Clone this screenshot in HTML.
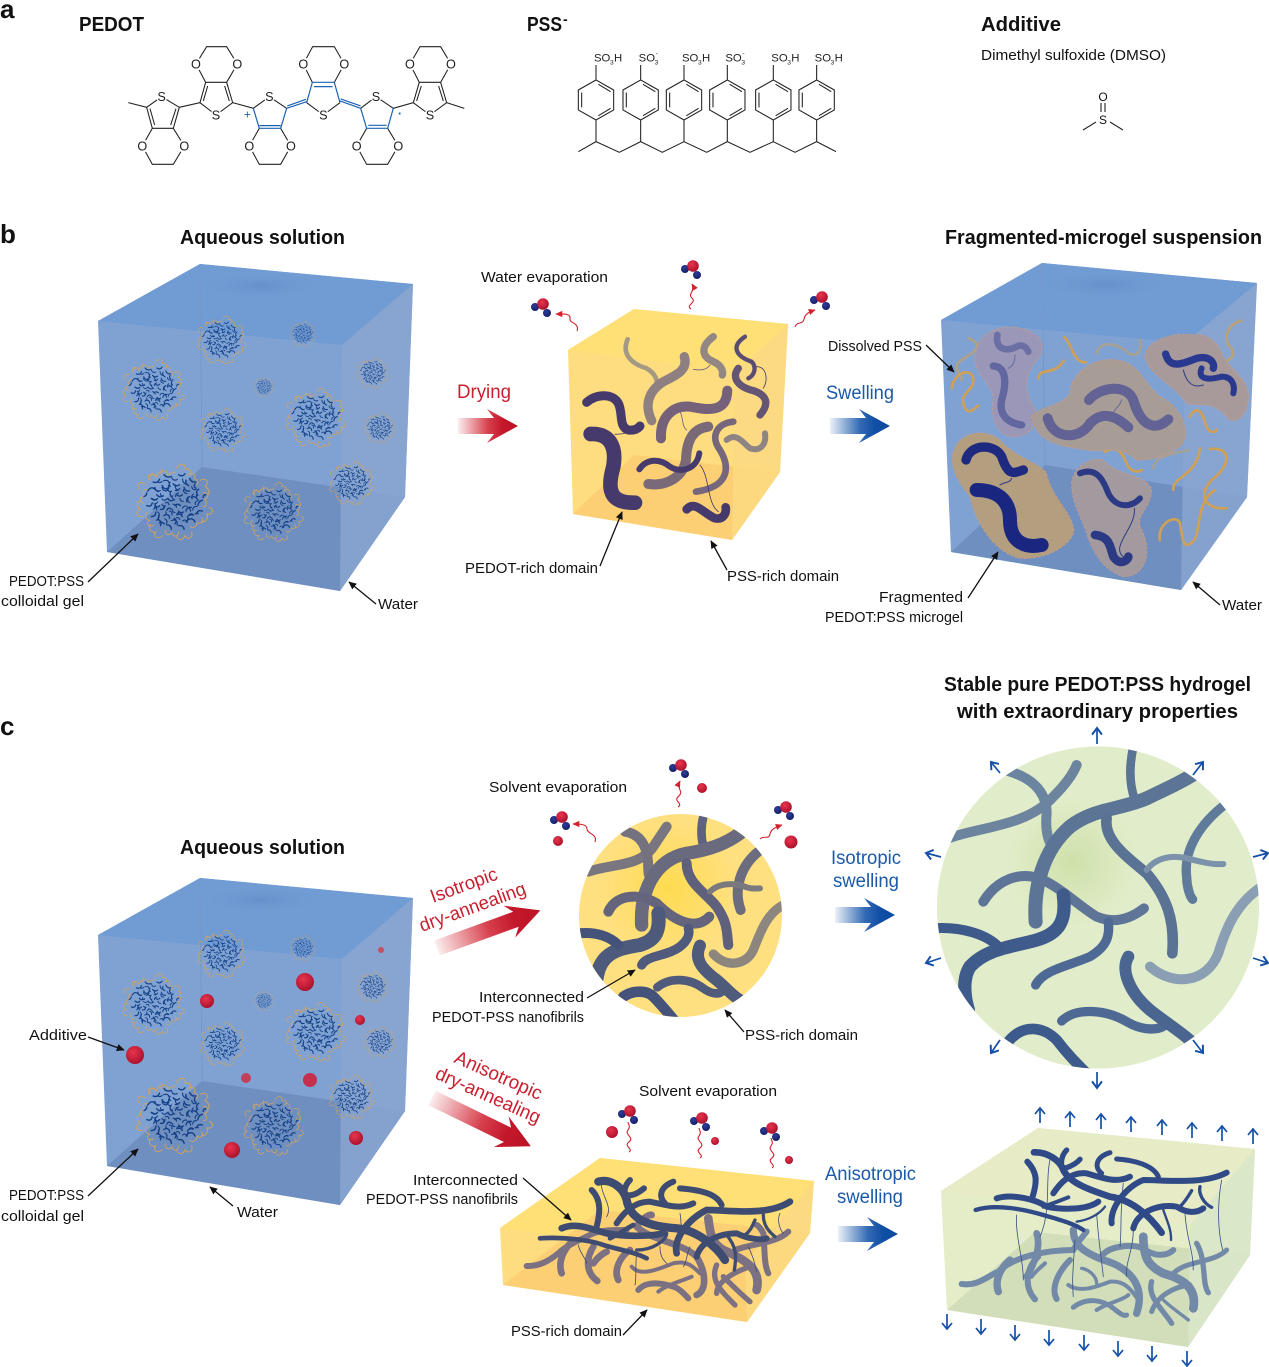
<!DOCTYPE html>
<html><head><meta charset="utf-8"><style>
html,body{margin:0;padding:0;background:#fff}
svg{display:block}
text{font-family:"Liberation Sans",sans-serif;fill:#111}
.h{font-weight:bold;font-size:20px}
.t{font-size:15px}
.p{font-size:26px;font-weight:bold}
.at{font-size:38px;stroke:none;fill:#222;text-anchor:middle}
.so{font-size:34px;fill:#222}
.sub{font-size:20px;fill:#222}
.r{fill:#c8202f;font-size:19px}
.b{fill:#1b5aa8;font-size:19px}
.f{fill:none;stroke-linecap:round;stroke-linejoin:round}
.or{fill:none;stroke:#cfa055;stroke-width:4;stroke-linecap:round}
</style></head><body>
<svg width="1269" height="1367" viewBox="0 0 1269 1367" xmlns="http://www.w3.org/2000/svg">
<defs>
<marker id="ah" viewBox="0 0 10 10" refX="9" refY="5" markerWidth="8" markerHeight="8" orient="auto" markerUnits="userSpaceOnUse"><path d="M0 0.5L10 5L0 9.5z" fill="#111"/></marker>
<marker id="bh" viewBox="0 0 10 10" refX="8" refY="5" markerWidth="11" markerHeight="11" orient="auto" markerUnits="userSpaceOnUse"><path d="M2 0.5L8 5L2 9.5" fill="none" stroke="#1450a5" stroke-width="1.8"/></marker>
<marker id="rh" viewBox="0 0 10 10" refX="9" refY="5" markerWidth="7" markerHeight="7" orient="auto" markerUnits="userSpaceOnUse"><path d="M0 0.5L10 5L0 9.5z" fill="#d2232f"/></marker>
<radialGradient id="sr" cx=".4" cy=".35" r=".7"><stop offset="0" stop-color="#e8354e"/><stop offset="1" stop-color="#a70f2b"/></radialGradient>
<radialGradient id="sb" cx=".4" cy=".35" r=".7"><stop offset="0" stop-color="#2c3d9c"/><stop offset="1" stop-color="#141c60"/></radialGradient>
<radialGradient id="yc" gradientUnits="userSpaceOnUse" cx="668" cy="888" r="70"><stop offset="0" stop-color="#fedb50"/><stop offset="1" stop-color="#ffe081"/></radialGradient>
<radialGradient id="gc" gradientUnits="userSpaceOnUse" cx="1072" cy="862" r="65"><stop offset="0" stop-color="#cfe0aa"/><stop offset="1" stop-color="#e1edca"/></radialGradient>
<linearGradient id="dr" x1="0" x2="1" y1="0" y2="0"><stop offset="0" stop-color="#d2232f" stop-opacity=".08"/><stop offset=".5" stop-color="#cf1f2e" stop-opacity=".85"/><stop offset=".75" stop-color="#c3162a"/><stop offset="1" stop-color="#bd1427"/></linearGradient>
<linearGradient id="db" x1="0" x2="1" y1="0" y2="0"><stop offset="0" stop-color="#0f50a8" stop-opacity=".08"/><stop offset=".5" stop-color="#0f50a8" stop-opacity=".85"/><stop offset=".75" stop-color="#0f4ea4"/><stop offset="1" stop-color="#0d4a9e"/></linearGradient>
<radialGradient id="wv" cx=".5" cy=".5" r=".5"><stop offset="0" stop-color="#6690ca"/><stop offset="1" stop-color="#6f9ad2" stop-opacity="0"/></radialGradient>
<clipPath id="c1"><circle cx="680.5" cy="915.5" r="101.5"/></clipPath>
<clipPath id="c2"><circle cx="1098" cy="907.5" r="161"/></clipPath>

<path id="gb" fill="none" stroke="#123f86" stroke-width="1.5" stroke-linecap="round" d="M-30 -12q4 -6 8 -2M-24 -22q5 2 7 -3M-12 -30q3 4 8 2M4 -30q4 3 7 -1M16 -26q2 5 7 4M26 -14q-4 3 -1 7M30 -2q-4 1 -5 6M30 10q-5 -2 -6 3M22 22q-2 -5 -7 -3M10 30q-1 -5 -6 -4M-4 30q0 -5 -5 -5M-16 26q2 -5 -3 -7M-26 16q5 0 5 -5M-31 4q5 2 6 -3M-20 -8q3 4 7 1M-14 -18q2 5 7 3M-2 -20q3 4 7 1M10 -16q1 5 6 4M16 -6q-4 2 -3 6M18 6q-5 -1 -6 4M8 16q-2 -4 -6 -2M-6 18q0 -5 -5 -4M-16 8q4 1 5 -4M-8 -4q2 4 6 2M2 -8q3 3 6 0M6 4q-3 -3 -6 0M-4 8q-3 -3 -5 1M-26 -4q3 3 6 1M-10 -12q4 -2 3 -6M12 -24q-1 4 3 6M24 -4q-3 -3 -6 -1M20 14q-3 -2 -5 1M-12 24q-2 -3 -5 -1M0 24q3 -4 -1 -6M4 10q2 3 5 1M-22 -16q0 4 4 4M-4 -12q-3 3 0 6M22 -20q-2 3 1 5M-20 20q3 -2 2 -5M-22 4q3 3 5 0M12 22q3 -2 2 -5M-34 -6q3 -1 3 -4M34 -8q-3 0 -3 3"/>
<path id="go" fill="none" stroke="#d2a25c" stroke-width="1.1" stroke-linecap="round" d="M-28 -24c-5 -8 6 -9 7 -3 3 -9 9 -4 6 -9M2 -37c3 -7 11 -5 9 1 5 -1 8 3 5 6M28 -24c7 -3 10 3 5 7 5 3 6 8 2 9M38 6c6 2 3 9 -3 7 2 6 -2 10 -6 8M18 33c3 6 -4 9 -7 4 -2 6 -9 5 -9 0M-14 37c-6 5 -11 0 -7 -4 -6 1 -9 -4 -6 -8M-36 16c-7 1 -8 -7 -2 -8 -5 -4 -4 -9 1 -10M-39 -14c-5 -5 1 -10 6 -6"/>
<symbol id="gel" viewBox="-45 -45 90 90" overflow="visible">
<use href="#go"/><use href="#go" transform="rotate(22) scale(.88)"/>
<use href="#gb"/><use href="#gb" transform="rotate(40) scale(.82)"/>
</symbol>

<g id="cube">
<path d="M98 321L200 264L413 284L405 497L340 591L107 552Z" fill="#7fa2d3"/>
<path d="M98 321L200 264L413 284L342 345Z" fill="#719bd3"/>
<ellipse cx="262" cy="286" rx="60" ry="14" fill="url(#wv)"/>
<path d="M107 552L202 467L405 497L340 591Z" fill="#6f8fc0"/>
<path d="M342 345L413 284L405 497L340 591Z" fill="#8aa6d0" opacity=".8"/>
<path d="M200 264L202 467" stroke="#7598c9" fill="none"/>
<g>
<use href="#gel" x="121" y="357" width="66" height="66"/>
<use href="#gel" x="196" y="314" width="52" height="52"/>
<use href="#gel" x="289" y="320" width="28" height="28"/>
<use href="#gel" x="356" y="356" width="34" height="34"/>
<use href="#gel" x="253" y="376" width="22" height="22"/>
<use href="#gel" x="199" y="406" width="48" height="48"/>
<use href="#gel" x="284" y="386" width="64" height="64"/>
<use href="#gel" x="363" y="411" width="34" height="34"/>
<use href="#gel" x="134" y="461" width="82" height="82"/>
<use href="#gel" x="242" y="480" width="64" height="64"/>
<use href="#gel" x="328" y="459" width="48" height="48"/>
</g>
</g>
<g id="wat"><circle cx="-8" cy="3" r="4" fill="url(#sb)"/><circle cx="0" cy="0" r="5.8" fill="url(#sr)"/><circle cx="4" cy="9" r="4" fill="url(#sb)"/></g>
<g id="bigr"><path d="M0 -8H36L29 -17L60 0L29 17L36 8H0Z" fill="url(#dr)"/></g>
<g id="bigb"><path d="M0 -8H36L29 -17L60 0L29 17L36 8H0Z" fill="url(#db)"/></g>
<g id="bigr2"><path d="M0 -8H84L77 -17L110 0L77 17L84 8H0Z" fill="url(#dr)"/></g>
</defs>

<!-- labels a -->
<text class="p" x="0" y="18">a</text><text class="p" x="0" y="243">b</text><text class="p" x="0" y="735">c</text>
<text class="h" x="79" y="31" textLength="65" lengthAdjust="spacingAndGlyphs">PEDOT</text>
<text class="h" x="527" y="31" textLength="35" lengthAdjust="spacingAndGlyphs">PSS</text><text x="563" y="24" font-size="14" font-weight="bold">-</text>
<text class="h" x="981" y="31" textLength="80" lengthAdjust="spacingAndGlyphs">Additive</text>
<text class="t" x="981" y="60" textLength="185" lengthAdjust="spacingAndGlyphs">Dimethyl sulfoxide (DMSO)</text>

<!-- PEDOT -->
<g transform="translate(90,30) scale(.3333)" fill="none" stroke="#222" stroke-width="3.2">
<path d="M115 218L170 232L187 295L250 295L268 232L215 200L170 232M250 295L283 348L250 403H187L157 348L187 295M180 236L194 285M258 236L242 285M268 232L330 218L347 157H410L428 218L378 255L330 218M347 157L318 102L350 50H410L442 102L410 157M340 213L353 168M418 213L404 168M428 218L490 235L538 200L590 235M508 295L478 348L508 403H572L603 348L572 295M650 218L700 255L750 218M667 157L640 102L668 50H733L763 102L733 157M812 235L858 200L910 235M830 295L800 348L830 403H893L925 348L893 295M910 235L970 218L988 157H1052L1070 218L1020 255L970 218M988 157L960 102L990 50H1052L1083 102L1052 157M980 213L994 168M1060 213L1046 168M1070 218L1123 235" />
<path d="M490 235L508 295H572L590 235M508 287H572M590 235L650 215M592 228L648 208M650 218L667 157H733L750 218M672 170H728M750 213L812 235M752 207L812 228M812 235L830 295H893L910 235M835 286H890" stroke="#1e62b5" stroke-width="3.6"/>
<g stroke="none" fill="#fff">
<circle cx="215" cy="200" r="17"/><circle cx="378" cy="255" r="17"/><circle cx="538" cy="200" r="17"/><circle cx="700" cy="255" r="17"/><circle cx="858" cy="200" r="17"/><circle cx="1020" cy="255" r="17"/>
<circle cx="318" cy="102" r="20"/><circle cx="442" cy="102" r="20"/><circle cx="640" cy="102" r="20"/><circle cx="763" cy="102" r="20"/><circle cx="960" cy="102" r="20"/><circle cx="1083" cy="102" r="20"/>
<circle cx="157" cy="348" r="20"/><circle cx="283" cy="348" r="20"/><circle cx="478" cy="348" r="20"/><circle cx="603" cy="348" r="20"/><circle cx="800" cy="348" r="20"/><circle cx="925" cy="348" r="20"/>
<text class="at" x="215" y="213">S</text><text class="at" x="378" y="268">S</text><text class="at" x="538" y="213">S</text><text class="at" x="700" y="268">S</text><text class="at" x="858" y="213">S</text><text class="at" x="1020" y="268">S</text>
<text class="at" x="318" y="115">O</text><text class="at" x="442" y="115">O</text><text class="at" x="640" y="115">O</text><text class="at" x="763" y="115">O</text><text class="at" x="960" y="115">O</text><text class="at" x="1083" y="115">O</text>
<text class="at" x="157" y="361">O</text><text class="at" x="283" y="361">O</text><text class="at" x="478" y="361">O</text><text class="at" x="603" y="361">O</text><text class="at" x="800" y="361">O</text><text class="at" x="925" y="361">O</text>
<text x="472" y="266" font-size="36" style="fill:#1e62b5" text-anchor="middle">+</text><text x="930" y="264" font-size="38" style="fill:#1e62b5" text-anchor="middle" font-weight="bold">·</text></g>
</g>

<!-- PSS -->
<g transform="translate(560,40) scale(.3333)" fill="none" stroke="#222" stroke-width="3.2">
<path d="M55 335L108 305L178 337L242 305L307 337L372 305L440 337L502 305L570 337L640 305L705 337L770 305L828 335"/>
<path d="M108 75V120L161 150V210L108 240L55 210V150L108 120M108 240V305M115 133L152 155M152 205L115 227M65 158V202"/>
<path transform="translate(134,0)" d="M108 75V120L161 150V210L108 240L55 210V150L108 120M108 240V305M115 133L152 155M152 205L115 227M65 158V202"/>
<path transform="translate(264,0)" d="M108 75V120L161 150V210L108 240L55 210V150L108 120M108 240V305M115 133L152 155M152 205L115 227M65 158V202"/>
<path transform="translate(394,0)" d="M108 75V120L161 150V210L108 240L55 210V150L108 120M108 240V305M115 133L152 155M152 205L115 227M65 158V202"/>
<path transform="translate(532,0)" d="M108 75V120L161 150V210L108 240L55 210V150L108 120M108 240V305M115 133L152 155M152 205L115 227M65 158V202"/>
<path transform="translate(662,0)" d="M108 75V120L161 150V210L108 240L55 210V150L108 120M108 240V305M115 133L152 155M152 205L115 227M65 158V202"/>
<g stroke="none">
<text class="so" x="102" y="65">SO</text><text class="sub" x="150" y="74">3</text><text class="so" x="162" y="65">H</text>
<text class="so" x="236" y="65">SO</text><text class="sub" x="284" y="74">3</text><text class="sub" x="287" y="46">-</text>
<text class="so" x="366" y="65">SO</text><text class="sub" x="414" y="74">3</text><text class="so" x="426" y="65">H</text>
<text class="so" x="496" y="65">SO</text><text class="sub" x="544" y="74">3</text><text class="sub" x="547" y="46">-</text>
<text class="so" x="634" y="65">SO</text><text class="sub" x="682" y="74">3</text><text class="so" x="694" y="65">H</text>
<text class="so" x="764" y="65">SO</text><text class="sub" x="812" y="74">3</text><text class="so" x="824" y="65">H</text>
</g></g>

<!-- DMSO -->
<path d="M1083 130L1096 122M1110 122L1123 130M1101 103V112M1105 103V112" stroke="#222" stroke-width="1.1" fill="none"/>
<text x="1103" y="124" font-size="12" text-anchor="middle">S</text><text x="1103" y="101" font-size="12" text-anchor="middle">O</text>

<!-- b headings -->
<text class="h" x="180" y="244" textLength="165" lengthAdjust="spacingAndGlyphs">Aqueous solution</text>
<text class="h" x="945" y="244" textLength="317" lengthAdjust="spacingAndGlyphs">Fragmented-microgel suspension</text>

<use href="#cube"/>

<!-- yellow cube -->
<path d="M568 350L634 309L788 324L780 472L732 540L573 514Z" fill="#fedd80"/>
<path d="M568 350L634 309L788 324L735 372Z" fill="#ffe076"/>
<path d="M573 514L634 455L780 472L732 540Z" fill="#fdcf74"/>
<path d="M735 372L788 324L780 472L732 540Z" fill="#fcd981" opacity=".9"/>
<g transform="translate(560,300) scale(.3333)" class="f">
<path d="M203 118C185 160 210 190 260 205C285 220 295 240 288 260" stroke="#a49a84" stroke-width="14"/>
<path d="M275 362C250 310 270 270 310 245C350 225 385 210 373 170" stroke="#8e7f80" stroke-width="28"/>
<path d="M460 110C420 140 425 170 460 185C485 195 490 215 487 225" stroke="#938783" stroke-width="22"/>
<path d="M400 208C420 212 440 210 450 195M360 335C370 350 365 380 380 390" stroke="#6d6080" stroke-width="2.5"/>
<path d="M500 420C530 395 550 430 570 445C600 455 620 435 615 400" stroke="#8f8484" stroke-width="18"/>
<path d="M303 415C300 350 340 315 390 320C440 330 500 340 502 272" stroke="#75627a" stroke-width="30"/>
<path d="M265 552C320 560 370 530 378 480C380 420 400 385 445 380" stroke="#7a6a78" stroke-width="30"/>
<path d="M520 365C470 370 450 410 480 450C510 500 510 560 408 575" stroke="#76677a" stroke-width="20"/>
<path d="M555 110C510 140 530 170 575 185C590 200 585 225 565 235" stroke="#5b4d72" stroke-width="13"/>
<path d="M535 205C515 230 530 260 580 272C620 285 630 310 600 345" stroke="#645574" stroke-width="22"/>
<path d="M590 200C620 200 625 240 610 265M165 403C180 403 200 400 210 395M420 495C450 530 440 610 475 635" stroke="#453a6b" stroke-width="2.5"/>
<path d="M238 508C260 475 300 475 330 500C360 520 410 510 418 460" stroke="#463b6c" stroke-width="18"/>
<path d="M80 307C110 280 160 280 175 310C190 340 175 380 205 390C225 392 235 385 240 378" stroke="#453a6b" stroke-width="27"/>
<path d="M92 402C150 400 170 440 160 500C140 570 150 610 225 608" stroke="#453a6b" stroke-width="44"/>
<path d="M380 628C405 600 430 640 465 655C490 660 500 640 497 622" stroke="#453a6b" stroke-width="26"/>
</g>

<!-- right cube -->
<path d="M941 320L1042 263L1257 283L1247 497L1181 590L951 552Z" fill="#7fa2d3"/>
<path d="M941 320L1042 263L1257 283L1185 343Z" fill="#719bd3"/>
<ellipse cx="1105" cy="285" rx="65" ry="14" fill="url(#wv)"/>
<path d="M951 552L1045 465L1247 497L1181 590Z" fill="#6f8fc0"/>
<path d="M1185 343L1257 283L1247 497L1181 590Z" fill="#8aa6d0" opacity=".8"/>
<path d="M1042 263L1045 465" stroke="#7598c9" fill="none"/>
<g transform="translate(940,260) scale(.3333)">
<g class="or" style="stroke-width:8">
<path d="M85 235C110 245 120 255 105 270C90 290 50 300 50 320C50 340 70 355 65 360" opacity=".6"/>
<path d="M35 385C40 340 90 320 100 355C105 390 60 400 70 430C80 470 100 450 115 437"/>
<path d="M373 232C395 250 400 310 438 307"/>
<path d="M295 355C300 320 340 350 372 302"/>
<path d="M470 280C480 240 530 250 560 275C590 300 610 270 600 240" opacity=".5"/>
<path d="M905 182C870 190 840 230 875 265C890 300 860 300 835 315" opacity=".7"/>
<path d="M750 470C770 430 790 460 795 490C805 520 825 520 830 510"/>
<path d="M495 575C540 550 550 590 565 620C580 640 600 635 605 630"/>
<path d="M640 625C640 590 700 580 745 570" opacity=".45"/>
<path d="M700 690C695 650 770 650 780 565"/>
<path d="M810 567C880 560 870 620 815 660C770 710 800 750 860 745"/>
<path d="M660 840C650 790 710 760 720 790C730 850 730 860 750 852C790 830 760 730 825 690"/>
</g>
<g stroke="#c79a84" stroke-width="3" stroke-dasharray="8 6">
<path d="M105 290C110 220 180 190 240 205C300 215 325 260 290 300C250 350 250 390 285 450C295 490 270 530 220 530C170 530 150 470 160 420C165 380 100 340 105 290Z" fill="#9a97b8"/>
<path d="M275 470C290 440 370 440 390 400C390 350 450 290 530 300C600 310 610 370 660 410C720 440 750 500 730 550C690 590 640 600 590 600C530 550 490 580 440 570C390 560 290 560 275 470Z" fill="#a89d96"/>
<path d="M40 580C50 520 130 500 180 540C220 590 300 610 320 640C330 710 410 770 400 820C380 870 300 900 240 895C170 880 110 800 90 710C50 660 30 620 40 580Z" fill="#b39e7f"/>
<path d="M395 670C400 620 450 590 490 600C530 650 620 640 635 690C630 750 590 760 600 800C640 870 620 950 550 950C490 930 460 880 440 820C420 760 395 730 395 670Z" fill="#a39a9f"/>
<path d="M615 290C620 240 700 215 760 225C800 220 830 240 850 290C880 340 930 360 925 420C920 470 880 500 860 470C820 420 780 440 740 430C710 380 620 340 615 290Z" fill="#a89a9a"/>
</g>
<g class="f">
<path d="M172 225C165 270 200 275 230 260C250 250 260 265 265 275" stroke="#6c6fa3" stroke-width="20"/>
<path d="M160 318C200 320 200 370 185 420C175 470 210 490 245 495" stroke="#6367a0" stroke-width="22"/>
<path d="M225 285C225 310 215 320 205 325M545 420C540 440 520 450 520 460" stroke="#6367a0" stroke-width="3"/>
<path d="M323 475C340 540 420 540 450 490C490 450 530 470 565 502" stroke="#626394" stroke-width="30"/>
<path d="M447 420C480 380 560 370 580 420C600 490 640 520 685 478" stroke="#626394" stroke-width="30"/>
<path d="M78 600C90 550 165 550 185 590C205 650 220 640 250 630" stroke="#1e2a7f" stroke-width="28"/>
<path d="M110 690C170 690 210 720 210 780C210 850 260 865 305 855" stroke="#1a2780" stroke-width="42"/>
<path d="M180 675C195 665 210 670 215 655M583 745C590 800 510 860 550 890M730 330C740 370 760 385 790 375" stroke="#2c3a85" stroke-width="3"/>
<path d="M420 640C470 620 490 660 505 700C530 750 580 740 600 715" stroke="#2c3a85" stroke-width="18"/>
<path d="M465 825C510 830 510 860 520 890C540 920 565 900 565 890" stroke="#2c3a85" stroke-width="26"/>
<path d="M677 282C690 330 730 310 770 295C810 285 825 310 820 325" stroke="#2a3990" stroke-width="22"/>
<path d="M785 325C770 360 810 360 845 350C880 350 885 380 880 400" stroke="#2a3990" stroke-width="18"/>
</g></g>

<!-- big arrows b -->
<use href="#bigr" transform="translate(458,426)"/>
<use href="#bigb" transform="translate(830,426)"/>
<text class="r" x="457" y="398" textLength="54" lengthAdjust="spacingAndGlyphs">Drying</text>
<text class="b" x="826" y="399" textLength="68" lengthAdjust="spacingAndGlyphs">Swelling</text>

<!-- water molecules b -->
<use href="#wat" x="693" y="266"/><use href="#wat" x="543" y="304"/><use href="#wat" x="822" y="297"/>
<g fill="none" stroke="#d2232f" stroke-width="1.1">
<path d="M691 309c-6 -4 6 -6 1 -11c-5 -4 4 -7 0 -14" marker-end="url(#rh)"/>
<path d="M577 331c3 -8 -8 -8 -7 -12c1 -6 -7 -5 -14 -5" marker-end="url(#rh)"/>
<path d="M795 327c2 -6 8 -2 9 -8c1 -5 5 -7 11 -9" marker-end="url(#rh)"/>
<path d="M678 807c6 -4 -6 -6 1 -11c5 -5 -3 -7 1 -15" marker-end="url(#rh)"/>
<path d="M595 842c3 -8 -8 -8 -8 -13c0 -5 -7 -5 -14 -5" marker-end="url(#rh)"/>
<path d="M760 839c4 -4 9 1 10 -5c1 -5 6 -7 12 -9" marker-end="url(#rh)"/>
<path d="M629 1152c5 -3 -6 -6 0 -10c6 -5 -5 -7 -1 -12c3 -4 0 -6 0 -8"/>
<path d="M700 1158c5 -3 -6 -6 0 -10c6 -5 -5 -7 -1 -12c3 -4 0 -6 0 -8"/>
<path d="M772 1168c5 -3 -6 -6 0 -10c6 -5 -5 -7 -1 -12c3 -4 0 -6 0 -8"/>
</g>

<!-- b labels -->
<text class="t" x="481" y="282" textLength="127" lengthAdjust="spacingAndGlyphs">Water evaporation</text>
<text class="t" x="828" y="351" textLength="94" lengthAdjust="spacingAndGlyphs">Dissolved PSS</text>
<text class="t" x="9" y="586" textLength="75" lengthAdjust="spacingAndGlyphs">PEDOT:PSS</text>
<text class="t" x="1" y="606" textLength="83" lengthAdjust="spacingAndGlyphs">colloidal gel</text>
<text class="t" x="378" y="609" textLength="40" lengthAdjust="spacingAndGlyphs">Water</text>
<text class="t" x="465" y="573" textLength="133" lengthAdjust="spacingAndGlyphs">PEDOT-rich domain</text>
<text class="t" x="727" y="581" textLength="112" lengthAdjust="spacingAndGlyphs">PSS-rich domain</text>
<text class="t" x="879" y="602" textLength="84" lengthAdjust="spacingAndGlyphs">Fragmented</text>
<text class="t" x="825" y="622" textLength="138" lengthAdjust="spacingAndGlyphs">PEDOT:PSS microgel</text>
<text class="t" x="1222" y="610" textLength="40" lengthAdjust="spacingAndGlyphs">Water</text>

<!-- c -->
<text class="h" x="944" y="691" textLength="307" lengthAdjust="spacingAndGlyphs">Stable pure PEDOT:PSS hydrogel</text>
<text class="h" x="957" y="718" textLength="281" lengthAdjust="spacingAndGlyphs">with extraordinary properties</text>
<text class="t" x="489" y="792" textLength="138" lengthAdjust="spacingAndGlyphs">Solvent evaporation</text>
<text class="h" x="180" y="854" textLength="165" lengthAdjust="spacingAndGlyphs">Aqueous solution</text>

<use href="#cube" y="614"/>
<g>
<circle cx="135" cy="1055" r="9" fill="url(#sr)"/><circle cx="207" cy="1001" r="7" fill="url(#sr)"/><circle cx="305" cy="982" r="9" fill="url(#sr)"/><circle cx="381" cy="950" r="3" fill="#c45064"/><circle cx="360" cy="1020" r="5" fill="url(#sr)"/><circle cx="246" cy="1078" r="5" fill="#c4405a"/><circle cx="310" cy="1080" r="7" fill="#c5304f"/><circle cx="232" cy="1150" r="8" fill="url(#sr)"/><circle cx="356" cy="1138" r="7" fill="url(#sr)"/>
</g>
<text class="t" x="29" y="1040" textLength="58" lengthAdjust="spacingAndGlyphs">Additive</text>
<text class="t" x="9" y="1200" textLength="75" lengthAdjust="spacingAndGlyphs">PEDOT:PSS</text>
<text class="t" x="1" y="1221" textLength="83" lengthAdjust="spacingAndGlyphs">colloidal gel</text>
<text class="t" x="237" y="1217" textLength="41" lengthAdjust="spacingAndGlyphs">Water</text>

<!-- red rotated -->
<use href="#bigr2" transform="translate(437,948) rotate(-20)"/>
<use href="#bigr2" transform="translate(432,1098) rotate(26)"/>
<text class="r" transform="translate(433,903) rotate(-20)" textLength="70" lengthAdjust="spacingAndGlyphs">Isotropic</text>
<text class="r" transform="translate(422,932) rotate(-20)" textLength="112" lengthAdjust="spacingAndGlyphs">dry-annealing</text>
<text class="r" transform="translate(453,1062) rotate(24)" textLength="94" lengthAdjust="spacingAndGlyphs">Anisotropic</text>
<text class="r" transform="translate(434,1078) rotate(24)" textLength="113" lengthAdjust="spacingAndGlyphs">dry-annealing</text>

<!-- yellow circle -->
<circle cx="680.5" cy="915.5" r="101.5" fill="url(#yc)"/>
<g clip-path="url(#c1)"><g transform="translate(570,800) scale(.3333)" class="f">
<path d="M55 215C130 190 210 200 250 140C270 110 280 95 290 80" stroke="#7a7680" stroke-width="30"/>
<path d="M165 95C230 105 235 170 235 210C235 225 240 235 247 235" stroke="#75727f" stroke-width="30"/>
<path d="M400 50C390 90 395 120 400 140" stroke="#5e6180" stroke-width="26"/>
<path d="M215 375C210 280 250 180 350 160C420 150 470 130 510 100" stroke="#6a6a7e" stroke-width="40"/>
<path d="M115 335C140 280 210 280 260 310C320 370 380 390 418 350" stroke="#64647d" stroke-width="30"/>
<path d="M350 190C350 250 410 280 440 320C475 370 470 400 475 435" stroke="#5e607c" stroke-width="30"/>
<path d="M565 155C510 200 490 270 512 330" stroke="#6b6c7e" stroke-width="30"/>
<path d="M420 275C450 245 500 250 530 262C550 268 565 265 570 265" stroke="#7a7a7e" stroke-width="18"/>
<path d="M640 315C590 340 570 400 550 450C530 495 470 505 430 462" stroke="#8c867e" stroke-width="28"/>
<path d="M215 495C230 465 290 470 330 440C355 420 360 400 355 385" stroke="#4f5a7c" stroke-width="28"/>
<path d="M265 340C270 390 260 420 210 435C150 445 90 455 80 535" stroke="#4e5a7c" stroke-width="42"/>
<path d="M25 400C80 395 120 410 145 435" stroke="#45527a" stroke-width="30"/>
<path d="M262 562C300 530 360 535 400 565C420 580 445 585 455 575" stroke="#505b7b" stroke-width="26"/>
<path d="M390 437C370 480 400 510 440 540C470 565 490 590 510 600" stroke="#4f5b7b" stroke-width="36"/>
<path d="M160 590C190 570 230 570 250 590C275 615 295 640 320 670" stroke="#45527a" stroke-width="32"/>
</g></g>
<use href="#wat" x="681" y="765"/><circle cx="702" cy="788" r="5" fill="url(#sr)"/>
<use href="#wat" x="562" y="817"/><circle cx="558" cy="841" r="5" fill="url(#sr)"/>
<use href="#wat" x="786" y="807"/><circle cx="791" cy="842" r="6.5" fill="url(#sr)"/>
<text class="t" x="479" y="1002" textLength="105" lengthAdjust="spacingAndGlyphs">Interconnected</text>
<text class="t" x="432" y="1022" textLength="152" lengthAdjust="spacingAndGlyphs">PEDOT-PSS nanofibrils</text>
<text class="t" x="745" y="1040" textLength="113" lengthAdjust="spacingAndGlyphs">PSS-rich domain</text>

<!-- green circle -->
<circle cx="1098" cy="907.5" r="161" fill="#e1edca"/><circle cx="1098" cy="907.5" r="161" fill="url(#gc)"/>
<g clip-path="url(#c2)"><g transform="translate(920,740) scale(.3333)" class="f">
<path d="M85 295C180 260 320 260 400 170C440 130 460 100 470 75" stroke="#6d849f" stroke-width="30"/>
<path d="M255 90C330 110 380 150 380 220C375 270 385 310 400 320" stroke="#6b85a0" stroke-width="30"/>
<path d="M640 20C625 90 630 140 645 180" stroke="#5a7496" stroke-width="26"/>
<path d="M347 545C340 440 370 330 450 260C520 205 600 210 680 175C730 150 780 130 825 100" stroke="#5c7496" stroke-width="42"/>
<path d="M190 485C230 420 300 390 370 420C430 450 480 500 530 530C590 555 640 530 672 505" stroke="#5e7598" stroke-width="30"/>
<path d="M560 235C550 300 620 350 680 400C740 470 765 540 757 640" stroke="#5a7294" stroke-width="32"/>
<path d="M920 190C840 250 790 330 800 410C800 440 810 470 818 478" stroke="#607a9c" stroke-width="28"/>
<path d="M680 390C710 350 760 345 800 355C840 365 880 375 910 372" stroke="#7c92ab" stroke-width="18"/>
<path d="M1025 440C950 490 920 560 895 640C860 730 760 740 690 680" stroke="#8a9fb4" stroke-width="30"/>
<path d="M347 735C370 690 440 680 510 650C560 620 570 590 565 545" stroke="#4e6a94" stroke-width="28"/>
<path d="M430 465C440 540 420 580 350 600C280 620 200 625 150 680C130 710 130 760 145 810" stroke="#3f5b8c" stroke-width="40"/>
<path d="M40 565C120 560 200 580 240 625" stroke="#3d5a8b" stroke-width="30"/>
<path d="M425 843C470 800 560 810 620 845C670 875 720 870 735 855" stroke="#4e6a94" stroke-width="28"/>
<path d="M625 650C600 690 630 760 690 810C740 850 790 880 820 910" stroke="#4a6590" stroke-width="36"/>
<path d="M265 905C310 850 370 860 410 900C440 940 470 970 500 1000" stroke="#3c5a8b" stroke-width="32"/>
</g></g>

<!-- blue radial arrows -->
<g stroke="#1450a5" stroke-width="1.7" fill="none">
<path d="M1097 744L1097 728" marker-end="url(#bh)"/><path d="M1000 773L991 762" marker-end="url(#bh)"/><path d="M1193 775L1203 762" marker-end="url(#bh)"/>
<path d="M941 857L926 853" marker-end="url(#bh)"/><path d="M1253 857L1268 853" marker-end="url(#bh)"/>
<path d="M941 958L926 963" marker-end="url(#bh)"/><path d="M1253 958L1268 963" marker-end="url(#bh)"/>
<path d="M1000 1040L991 1053" marker-end="url(#bh)"/><path d="M1193 1040L1203 1053" marker-end="url(#bh)"/>
<path d="M1097 1072L1097 1088" marker-end="url(#bh)"/>
<path d="M1040 1123V1108M1070 1127V1112M1101 1129V1114M1131 1132V1117M1162 1135V1120M1192 1138V1123M1222 1141V1126M1253 1144V1129M947 1314V1329M981 1319V1334M1015 1325V1340M1049 1330V1345M1084 1335V1350M1118 1341V1356M1152 1346V1361M1187 1351V1366"/>
<path d="M1035 1114L1040 1108L1045 1114M1065 1118L1070 1112L1075 1118M1096 1120L1101 1114L1106 1120M1126 1123L1131 1117L1136 1123M1157 1126L1162 1120L1167 1126M1187 1129L1192 1123L1197 1129M1217 1132L1222 1126L1227 1132M1248 1135L1253 1129L1258 1135M942 1323L947 1329L952 1323M976 1328L981 1334L986 1328M1010 1334L1015 1340L1020 1334M1044 1339L1049 1345L1054 1339M1079 1344L1084 1350L1089 1344M1113 1350L1118 1356L1123 1350M1147 1355L1152 1361L1157 1355M1182 1360L1187 1366L1192 1360"/>
</g>

<!-- blue big arrows c -->
<use href="#bigb" transform="translate(835,915)"/>
<use href="#bigb" transform="translate(838,1234)"/>
<text class="b" x="831" y="864" textLength="70" lengthAdjust="spacingAndGlyphs">Isotropic</text>
<text class="b" x="833" y="887" textLength="66" lengthAdjust="spacingAndGlyphs">swelling</text>
<text class="b" x="825" y="1180" textLength="91" lengthAdjust="spacingAndGlyphs">Anisotropic</text>
<text class="b" x="837" y="1203" textLength="66" lengthAdjust="spacingAndGlyphs">swelling</text>

<!-- flat yellow -->
<path d="M500 1228L600 1158L814 1181L810 1233L747 1322L503 1285Z" fill="#fedd80"/>
<path d="M500 1228L600 1158L814 1181L745 1262Z" fill="#ffe076"/>
<path d="M503 1285L600 1210L810 1233L747 1322Z" fill="#fdcf74"/>
<path d="M745 1262L814 1181L810 1233L747 1322Z" fill="#fcd981" opacity=".9"/>
<g transform="translate(490,1150) scale(.3333)" class="f">
<g stroke="#7c7182" stroke-width="20">
<path d="M110 348C150 350 180 330 205 310C230 285 270 270 310 250C340 240 370 240 410 240" stroke-width="18"/>
<path d="M215 370C205 340 215 310 240 280M322 393C290 370 285 330 310 290M310 340C325 320 340 310 350 305M385 390C370 360 390 320 420 300"/>
<path d="M425 350C450 380 500 360 550 340C590 330 610 350 630 370" stroke-width="12"/>
<path d="M445 420C470 390 520 400 550 410C570 415 590 440 595 445" stroke-width="18"/>
<path d="M505 425C530 405 570 395 605 380" stroke-width="12"/>
<path d="M620 435C650 420 650 370 620 320C580 280 480 270 440 230C450 210 480 190 485 195" stroke-width="20"/>
<path d="M655 205C660 250 665 280 700 300C770 330 815 360 800 420" stroke-width="26"/>
<path d="M680 345C660 390 690 420 735 465M680 430C680 400 720 370 780 350M780 455C750 430 720 400 700 380" stroke-width="16"/>
<path d="M835 370C820 340 825 280 820 250C810 230 800 225 800 225M735 300C790 280 860 280 895 245" stroke-width="18"/>
</g>
<path d="M335 100C330 130 370 170 350 200M440 310C435 350 440 390 435 405M265 285C270 310 285 320 290 340M510 290C510 320 520 330 530 340M570 190C575 210 570 220 575 225M600 290C590 310 590 340 580 350M870 190C860 210 870 240 880 250M775 290C785 310 795 340 800 365" stroke="#3e4c72" stroke-width="2.5"/>
<g stroke="#3e4c72" stroke-width="18">
<path d="M420 90C400 110 400 140 410 135C430 140 450 125 462 115" stroke-width="18"/>
<path d="M380 220C400 190 430 155 480 155C530 165 570 180 610 160"/>
<path d="M550 95C510 110 505 140 525 160M570 115C630 120 680 130 695 165M305 120C335 150 330 190 320 230"/>
<path d="M215 235C260 215 310 240 350 250C400 260 480 260 520 250" stroke-width="20"/>
<path d="M150 265C220 260 300 270 340 285C390 300 430 305 470 325" stroke-width="14"/>
<path d="M360 265C390 250 410 235 430 225" stroke-width="14"/>
<path d="M440 300C490 300 530 270 530 250" stroke-width="10"/>
<path d="M560 310C550 270 590 210 650 180C720 180 830 200 900 155" stroke-width="20"/>
<path d="M620 320C630 280 680 250 740 250C780 270 820 270 830 265"/>
<path d="M765 255C785 240 790 220 795 210M855 260C830 240 820 220 820 195M710 255C740 290 740 320 733 360" stroke-width="10"/>
<path d="M325 95C360 85 400 110 410 150C420 210 480 230 560 235C620 240 680 290 705 330" stroke-width="25"/>
</g></g>
<use href="#wat" x="630" y="1111"/><circle cx="612" cy="1132" r="6" fill="url(#sr)"/>
<use href="#wat" x="702" y="1118"/><circle cx="715" cy="1141" r="4" fill="url(#sr)"/>
<use href="#wat" x="772" y="1128"/><circle cx="789" cy="1160" r="4" fill="url(#sr)"/>
<text class="t" x="639" y="1096" textLength="138" lengthAdjust="spacingAndGlyphs">Solvent evaporation</text>
<text class="t" x="413" y="1185" textLength="105" lengthAdjust="spacingAndGlyphs">Interconnected</text>
<text class="t" x="366" y="1204" textLength="152" lengthAdjust="spacingAndGlyphs">PEDOT-PSS nanofibrils</text>
<text class="t" x="511" y="1336" textLength="111" lengthAdjust="spacingAndGlyphs">PSS-rich domain</text>

<!-- flat green -->
<path d="M941 1191L1038 1128L1255 1149L1250 1255L1188 1347L947 1310Z" fill="#e4edc8"/>
<path d="M941 1191L1038 1128L1255 1149L1190 1225Z" fill="#e7ebc6"/>
<path d="M947 1310L1035 1232L1250 1255L1188 1347Z" fill="#d2deba"/>
<path d="M1190 1225L1255 1149L1250 1255L1188 1347Z" fill="#d9e5c9" opacity=".9"/>
<g transform="translate(930,1100) scale(.3333)" class="f">
<g stroke="#7289a8" stroke-width="18">
<path d="M95 552C140 560 170 530 205 515C250 470 350 450 430 450"/>
<path d="M205 575C195 545 205 510 240 480" stroke-width="22"/>
<path d="M315 598C280 560 290 500 325 470"/><path d="M320 400C330 430 325 470 290 530" stroke-width="20"/>
<path d="M305 530C320 510 335 500 345 490" stroke-width="12"/>
<path d="M380 597C360 560 390 510 420 480"/>
<path d="M430 390C430 440 470 460 520 480C590 500 650 550 620 640" stroke-width="22"/>
<path d="M470 395C450 420 440 430 430 450"/>
<path d="M455 505C480 510 500 530 500 550" stroke-width="10"/>
<path d="M415 555C450 580 500 560 540 545C590 540 610 580 625 600" stroke-width="12"/>
<path d="M430 622C470 590 520 600 550 625C570 640 580 650 590 645" stroke-width="15"/>
<path d="M500 630C530 610 580 600 595 585" stroke-width="12"/>
<path d="M515 470C530 440 600 430 640 445C670 470 710 470 730 450"/>
<path d="M640 410C640 480 660 500 700 520C770 540 800 570 790 625" stroke-width="26"/>
<path d="M665 545C650 590 700 630 725 670" stroke-width="16"/>
<path d="M665 635C680 590 730 560 780 555" stroke-width="15"/>
<path d="M775 660C750 640 720 620 700 600" stroke-width="10"/>
<path d="M835 578C815 550 830 480 800 430" stroke-width="16"/>
<path d="M730 520C770 480 850 490 890 450" stroke-width="15"/>
</g>
<path d="M360 180C345 240 365 330 330 410M260 345C255 410 280 470 280 540M435 420C430 500 425 540 430 590M500 340C505 420 515 480 520 530M580 250C570 330 575 400 570 440M610 390C610 450 585 490 590 530M765 340C770 420 790 450 790 510M875 240C860 320 865 400 878 450" stroke="#3b5488" stroke-width="2.5"/>
<g stroke="#2f4a87" stroke-width="18">
<path d="M410 150C390 170 390 210 405 205C420 200 440 190 450 178" stroke-width="16"/>
<path d="M370 280C390 250 420 215 470 220C520 235 560 250 600 230"/>
<path d="M540 158C500 170 490 200 515 220M560 177C610 180 670 195 685 230" stroke-width="15"/>
<path d="M292 185C325 220 320 250 308 290"/>
<path d="M200 295C250 280 320 300 350 320C400 330 470 330 505 305"/>
<path d="M137 330C200 310 290 330 340 345C390 360 430 370 460 390" stroke-width="13"/>
<path d="M340 320C370 310 395 300 415 292" stroke-width="12"/>
<path d="M440 365C480 360 510 340 525 320" stroke-width="7"/>
<path d="M545 370C540 320 590 260 640 240C710 240 820 255 890 218"/>
<path d="M610 385C620 340 680 310 740 320C770 340 800 340 820 325"/>
<path d="M750 320C770 300 780 280 785 272M845 322C820 310 805 280 810 260" stroke-width="10"/>
<path d="M700 330C710 360 725 390 723 420" stroke-width="7"/>
<path d="M312 157C350 155 390 180 400 210C420 250 480 270 540 290C610 300 660 350 695 398" stroke-width="20"/>
</g></g>

<!-- black arrows -->
<g stroke="#111" stroke-width="1.3" fill="none">
<path d="M88 582L138 534" marker-end="url(#ah)"/><path d="M376 604L349 582" marker-end="url(#ah)"/>
<path d="M600 566L622 512" marker-end="url(#ah)"/><path d="M727 570L711 541" marker-end="url(#ah)"/>
<path d="M926 345L954 372" marker-end="url(#ah)"/><path d="M968 598L998 552" marker-end="url(#ah)"/>
<path d="M1220 605L1193 582" marker-end="url(#ah)"/>
<path d="M88 1196L138 1149" marker-end="url(#ah)"/><path d="M233 1206L210 1187" marker-end="url(#ah)"/>
<path d="M88 1037L124 1050" marker-end="url(#ah)"/><path d="M587 998L635 970" marker-end="url(#ah)"/>
<path d="M744 1032L725 1010" marker-end="url(#ah)"/><path d="M523 1178L571 1220" marker-end="url(#ah)"/>
<path d="M623 1335L647 1310" marker-end="url(#ah)"/>
</g>
</svg>
</body></html>
